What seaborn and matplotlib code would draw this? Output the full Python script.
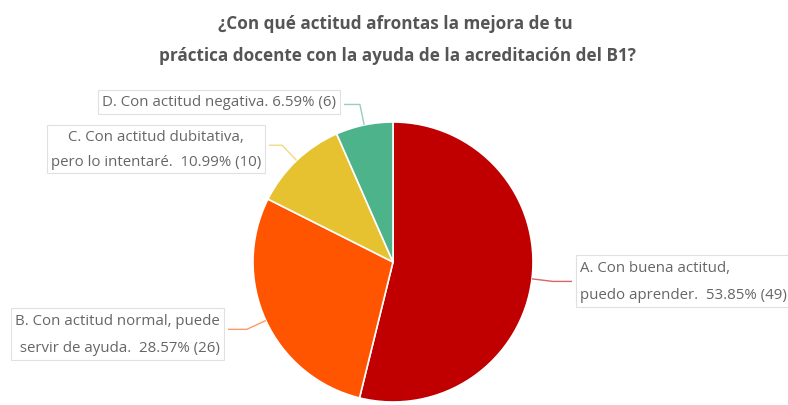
import matplotlib
matplotlib.use("Agg")
import matplotlib.pyplot as plt
import seaborn as sns
import numpy as np

sns.set_theme(style="white")
plt.rcParams['font.family'] = ['Open Sans', 'DejaVu Sans']

# ---- data ----
categories = ["A. Con buena actitud,\npuedo aprender.",
              "B. Con actitud normal, puede\n servir de ayuda.",
              "C. Con actitud dubitativa,\npero lo intentaré.",
              "D. Con actitud negativa."]
counts = [49, 26, 10, 6]
percents = [53.85, 28.57, 10.99, 6.59]
colors = ["#C00000", "#FF5500", "#E6C230", "#4DB38A"]
title_lines = ["¿Con qué actitud afrontas la mejora de tu",
               "práctica docente con la ayuda de la acreditación del B1?"]

# ---- layout (pixels, origin bottom-left) ----
W, H = 788, 406
center = (393, H - 263)
radius = 140
# label box anchors: (x, y, ha, multialign, linespacing)
label_pos = [(580, H - 282, "left", "left", 2.15),
             (220, H - 335, "right", "right", 2.15),
             (261, H - 150, "right", "center", 1.9),
             (336, H - 103, "right", "left", 1.0)]
label_sep = ["  ", "  ", "  ", " "]

fig = plt.figure(figsize=(W / 100, H / 100), dpi=100)
ax = fig.add_axes([0, 0, 1, 1])

wedges, _ = ax.pie(counts, colors=colors, startangle=90, counterclock=False,
                   center=center, radius=radius, frame=False,
                   wedgeprops=dict(edgecolor="white", linewidth=1.2))
ax.set_xlim(0, W)
ax.set_ylim(0, H)
ax.set_aspect("equal")
ax.axis("off")

for w, cat, n, p, (lx, ly, ha, ma, ls), sep, col in zip(
        wedges, categories, counts, percents, label_pos, label_sep, colors):
    ang = np.deg2rad((w.theta1 + w.theta2) / 2)
    ex = center[0] + radius * np.cos(ang)
    ey = center[1] + radius * np.sin(ang)
    bx = center[0] + radius * 1.15 * np.cos(ang)
    by = center[1] + radius * 1.15 * np.sin(ang)
    endx = lx - 8 if ha == "left" else lx + 8
    ax.plot([ex, bx, endx], [ey, by, by], color=col, lw=1.0, alpha=0.6,
            solid_capstyle="butt")
    txt = f"{cat}{sep}{p:.2f}% ({n})"
    ax.text(lx, ly, txt, ha=ha, va="center", multialignment=ma,
            fontsize=10.8, color="#666666", linespacing=ls,
            bbox=dict(boxstyle="square,pad=0.28", fc="white",
                      ec="#e0e0e0", lw=0.8))

ax.text(395, H - 24, title_lines[0], ha="center", va="center",
        fontsize=12.3, fontweight="bold", color="#555555")
ax.text(397, H - 56, title_lines[1], ha="center", va="center",
        fontsize=12.3, fontweight="bold", color="#555555")

fig.savefig("out.png", dpi=100, facecolor="white")
